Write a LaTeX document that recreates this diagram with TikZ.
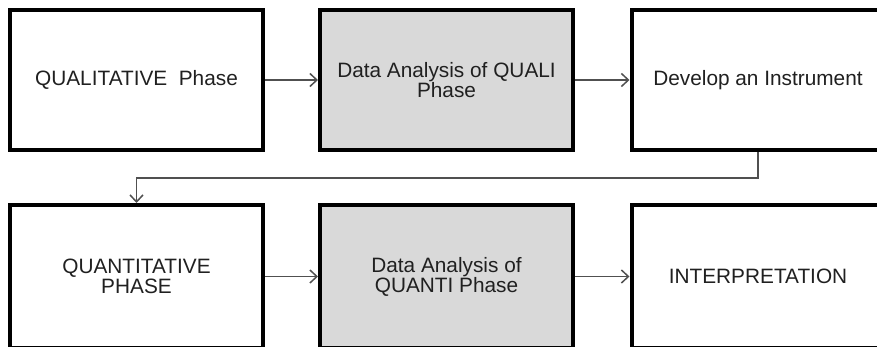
\documentclass[tikz,border=0pt]{standalone}
\usepackage{fontspec}
\setmainfont{Liberation Sans}
\usetikzlibrary{arrows.meta}
\definecolor{boxgray}{HTML}{D9D9D9}
\definecolor{linegray}{HTML}{505050}
\definecolor{txt}{HTML}{202020}
\begin{document}
\begin{tikzpicture}[x=1pt,y=-1pt,
  stagebox/.style={draw=black, line width=4pt, minimum width=253pt, minimum height=140pt,
    inner sep=0pt, align=center, text=txt,
    font=\fontsize{20.8}{20}\selectfont},
  shaded/.style={stagebox, fill=boxgray},
  plain/.style={stagebox, fill=white},
  lowrow/.style={minimum height=143pt},
  flow/.style={draw=linegray, line width=1.5pt, -{Straight Barb[length=7pt,width=13pt,line width=1.5pt]}}
]
\useasboundingbox (0,0) rectangle (877,346);
\node[plain]  (b1) at (136.5,80) {QUALITATIVE\ \ Phase};
\node[shaded] (b2) at (446.5,80) {Data Analysis of QUALI\\Phase};
\node[plain]  (b3) at (758,80) {Develop an Instrument};
\node[plain, lowrow]  (b4) at (136.5,276.5) {QUANTITATIVE\\PHASE};
\node[shaded, lowrow] (b5) at (446.5,276.5) {Data Analysis of\\QUANTI Phase};
\node[plain, lowrow]  (b6) at (758,276.5) {INTERPRETATION};
\coordinate (c1) at (b3.south |- 0,178);
\coordinate (c2) at (b4.north |- 0,178);
\draw[flow] (b1) -- (b2);
\draw[flow] (b2) -- (b3);
\draw[flow] (b3.south) -- (c1) -- (c2) -- (b4.north);
\draw[flow] (b4) -- (b5);
\draw[flow] (b5) -- (b6);
\end{tikzpicture}
\end{document}
